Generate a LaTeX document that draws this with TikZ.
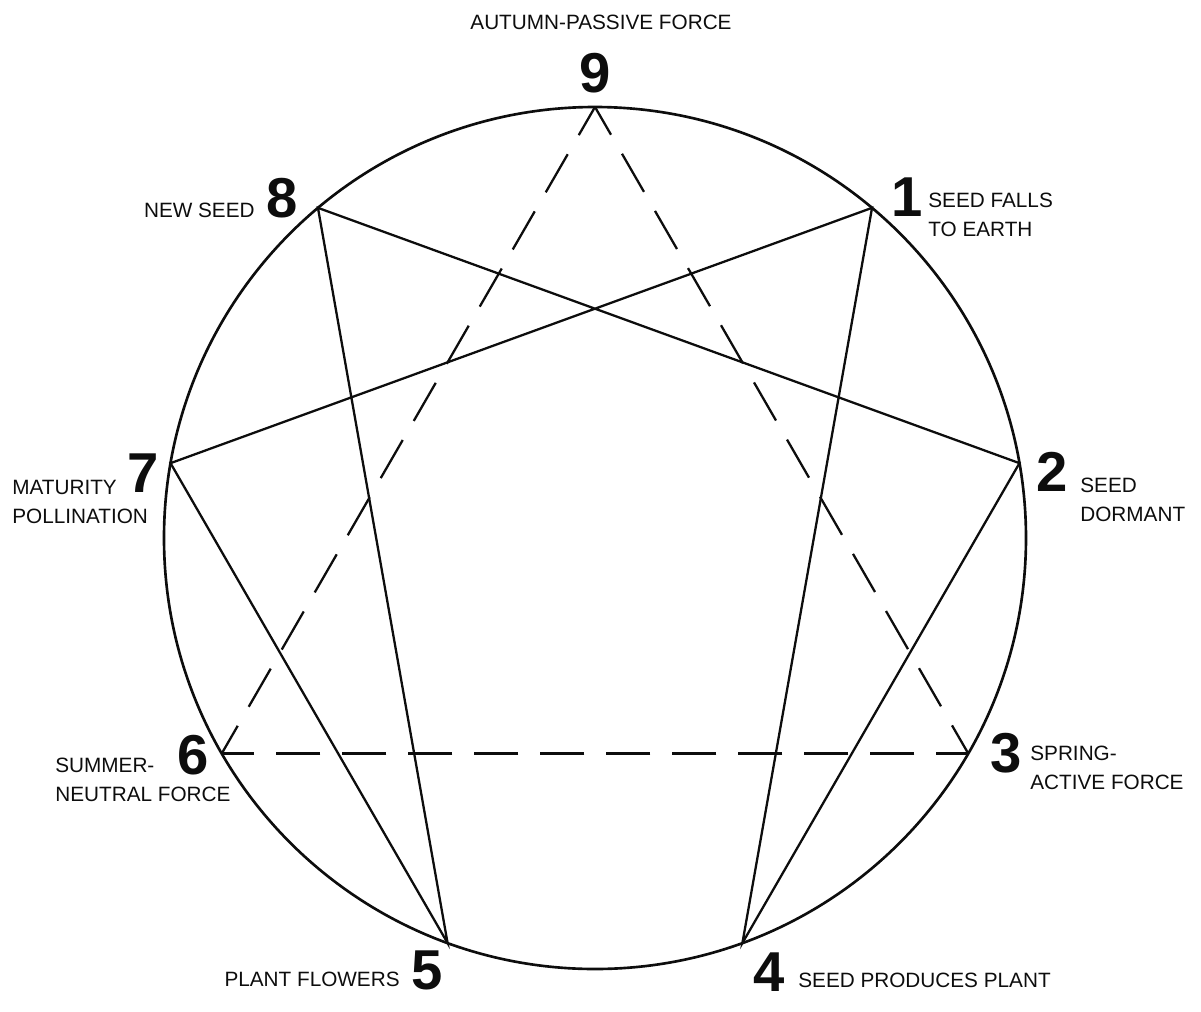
\documentclass[tikz,border=0pt]{standalone}
\usepackage{fontspec}
\setmainfont{Liberation Sans}
\usetikzlibrary{positioning}
\definecolor{ink}{gray}{0.05}
\tikzset{
  num/.style={font=\fontsize{32}{32}\selectfont\bfseries, text=ink, inner sep=0pt},
  lbl/.style={font=\fontsize{11.8}{16.5}\selectfont, text=ink, align=left, inner sep=0pt},
  rim/.style={draw=ink, line width=1.5pt},
  chord/.style={draw=ink, line width=1.3pt, line join=miter},
  hidden/.style={chord, dash pattern=on 0.88cm off 0.44cm, dash phase=0.24cm},
}

\begin{document}
\begin{tikzpicture}
    \useasboundingbox (-11.9,-9.46) rectangle (12.12,10.76);
    \draw[rim] (0,0) circle (8.62);
    % points on the rim, 9 at the top
    \foreach \k in {1,...,9}
      \coordinate (p\k) at ({90-40*\k}:8.62);

    \node[num] (n9) at (0,9.3)       {9};
    \node[num] (n1) at (6.24,6.82)   {1};
    \node[num] (n2) at (9.14,1.32)   {2};
    \node[num] (n3) at (8.22,-4.3)   {3};
    \node[num] (n4) at (3.48,-8.68)  {4};
    \node[num] (n5) at (-3.36,-8.64) {5};
    \node[num] (n6) at (-8.04,-4.34) {6};
    \node[num] (n7) at (-9.04,1.3)   {7};
    \node[num] (n8) at (-6.26,6.8)   {8};

    \node[lbl] (t9) at (0.12,10.32) {AUTUMN-PASSIVE FORCE};
    \node[lbl, anchor=west] (t1) at (6.66,6.46)   {SEED FALLS\\TO EARTH};
    \node[lbl, anchor=west] (t2) at (9.7,0.76)    {SEED\\DORMANT};
    \node[lbl, anchor=west] (t3) at (8.7,-4.6)    {SPRING-\\ACTIVE FORCE};
    \node[lbl, anchor=west] (t4) at (4.06,-8.84)  {SEED PRODUCES PLANT};
    \node[lbl, anchor=east] (t5) at (-3.9,-8.82)  {PLANT FLOWERS};
    \node[lbl, anchor=west] (t6) at (-10.8,-4.84) {SUMMER-\\NEUTRAL FORCE};
    \node[lbl, anchor=west] (t7) at (-11.66,0.72) {MATURITY\\POLLINATION};
    \node[lbl, anchor=east] (t8) at (-6.8,6.56)   {NEW SEED};

    \draw[chord] (p1) -- (p4) -- (p2) -- (p8) -- (p5) -- (p7) -- cycle;
    \draw[hidden] (p9) -- (p3);
    \draw[hidden] (p3) -- (p6);
    \draw[hidden] (p6) -- (p9);
\end{tikzpicture}
\end{document}
